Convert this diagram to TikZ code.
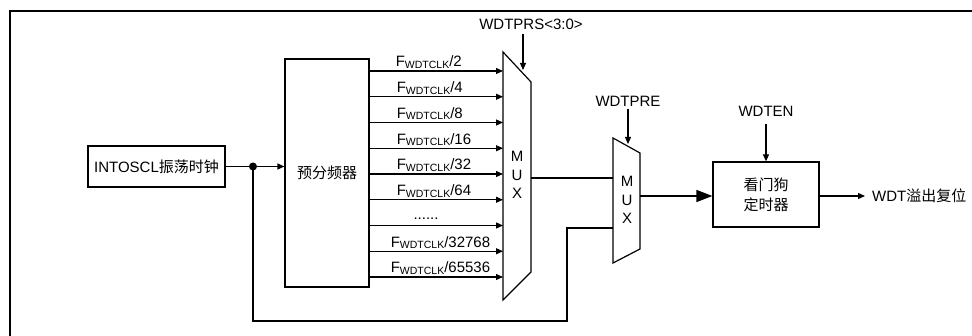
\documentclass[tikz,border=0pt]{standalone}
\usepackage{fontspec}
\setmainfont{Liberation Sans}
\newfontfamily\cjk{Noto Sans CJK SC}
\usetikzlibrary{arrows.meta, positioning, calc}
\tikzset{
	blockbox/.style={
			draw=black,
			line width=1.2pt,
			fill=white,
			inner sep=0pt,
			font=\fontsize{15}{20}\selectfont
		},
	sigline/.style={
			line width=1.2pt
		},
	sigarrow/.style={
			sigline,
			-{Triangle[length=7pt,width=6pt]}
		},
	bigarrow/.style={
			sigline,
			-{Triangle[length=16pt,width=12pt]}
		},
	lbl/.style={
			inner sep=0pt,
			font=\fontsize{15}{18.5}\selectfont
		}
}
\newcommand{\fdiv}[1]{F\raisebox{-1.5pt}{\fontsize{10.5}{12}\selectfont WDTCLK}/#1}

\begin{document}
\begin{tikzpicture}[x=1pt, y=-1pt]
    \useasboundingbox (0,0) rectangle (972,336);
    \draw[line width=2pt] (972,11) -- (10,11) -- (10,336);

    % blocks
    \node[blockbox, minimum width=137pt, minimum height=41pt] (osc) at (156.5,166.5) {INTOSCL{\cjk 振荡时钟}};
    \node[blockbox, minimum width=84pt, minimum height=228pt] (pre) at (327,173) {{\cjk 预分频器}};
    \node[blockbox, minimum width=106pt, minimum height=65pt, align=center] (wdt) at (766,194.5) {{\cjk 看门狗}\\{\cjk 定时器}};

    % multiplexers
    \draw[sigline, fill=white] (503,52) -- (531,82) -- (531,272) -- (503,300) -- cycle;
    \node[lbl, align=center] (mux1) at (517,175) {M\\U\\X};
    \draw[sigline, fill=white] (613,138) -- (640,153) -- (640,249) -- (613,263) -- cycle;
    \node[lbl, align=center] (mux2) at (627,200) {M\\U\\X};

    \coordinate (m1out) at (531,178);
    \coordinate (m2in1) at (613,178);
    \coordinate (m2in2) at (613,228);
    \coordinate (m2out) at (640,196);
    \coordinate (m1sel) at (523,70);
    \coordinate (m2sel) at (628,144);

    % clock into prescaler
    \coordinate (dot) at (253,166.5);
    \draw[sigarrow] (osc.east) -- (pre.west |- osc.east);
    \fill (dot) circle (4pt);
    \draw[sigline] (dot) |- (567,321) |- (m2in2);

    % prescaler outputs
    \foreach \i in {0,...,8} {
        \coordinate (in\i) at (503,71+25.75*\i);
        \draw[sigarrow] (pre.east |- in\i) -- (in\i);
    }
    \foreach \i/\d/\dx in {0/2/26, 1/4/27, 2/8/27, 3/16/27, 4/32/27, 5/64/27, 7/32768/21, 8/65536/21} {
        \node[lbl, anchor=base west] (f\i) at ($(pre.east |- in\i)+(\dx,-4)$) {\fdiv{\d}};
    }
    \node[lbl, anchor=base] (f6) at (426,220) {......};

    % select signals
    \node[lbl] (prs) at (531,24) {WDTPRS<3:0>};
    \draw[sigarrow] ([yshift=-4pt]prs.south -| m1sel) -- (m1sel);
    \node[lbl] (pren) at (628,101) {WDTPRE};
    \draw[sigarrow] ([yshift=-3pt]pren.south) -- (m2sel);
    \node[lbl] (wdten) at (766,111) {WDTEN};
    \draw[sigarrow] ([yshift=-8pt]wdten.south) -- (wdt.north);

    % data path
    \draw[sigline] (m1out) -- (m2in1);
    \draw[bigarrow] (m2out) -- (wdt.west |- m2out);
    \node[lbl, anchor=west] (out) at (872,196) {WDT{\cjk 溢出复位}};
    \draw[sigarrow] (wdt.east |- out.west) -- ([xshift=-7pt]out.west);
\end{tikzpicture}
\end{document}
